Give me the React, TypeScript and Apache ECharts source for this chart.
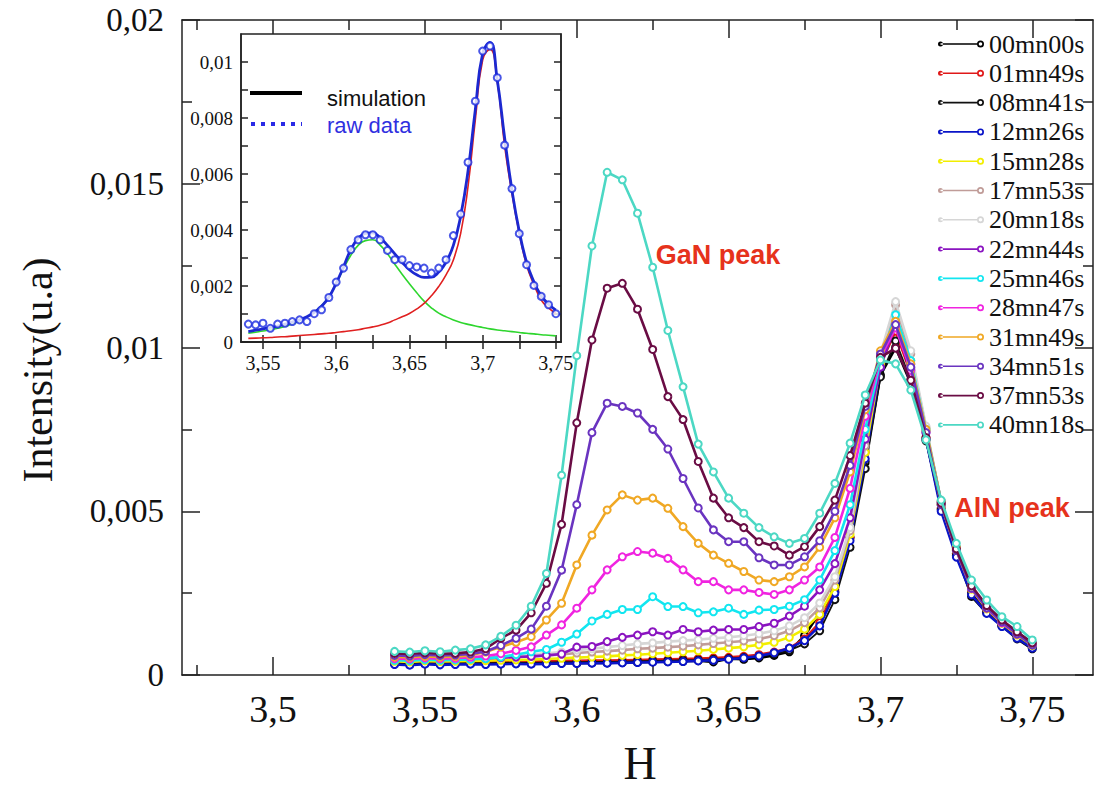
import React, { useEffect, useRef } from "react";
import * as echarts from "echarts";

// H positions (r.l.u.)
const H = [3.54, 3.545, 3.55, 3.555, 3.56, 3.565, 3.57, 3.575, 3.58, 3.585, 3.59, 3.595, 3.6, 3.605, 3.61, 3.615, 3.62, 3.625, 3.63, 3.635, 3.64, 3.645, 3.65, 3.655, 3.66, 3.665, 3.67, 3.675, 3.68, 3.685, 3.69, 3.695, 3.7, 3.705, 3.71, 3.715, 3.72, 3.725, 3.73, 3.735, 3.74, 3.745, 3.75];

const SERIES_NAMES = ["00mn00s", "01mn49s", "08mn41s", "12mn26s", "15mn28s", "17mn53s", "20mn18s", "22mn44s", "25mn46s", "28mn47s", "31mn49s", "34mn51s", "37mn53s", "40mn18s"];
const SERIES_COLORS = ["#000000", "#e01818", "#111111", "#0a14c8", "#f2ee00", "#c09c98", "#d6d6d6", "#8a14c0", "#12e6f0", "#f024e0", "#f0a824", "#6a34c0", "#6a0c44", "#4cd8c4"];

const S00 = [0.00035, 0.00033, 0.00036, 0.00034, 0.00035, 0.00036, 0.00035, 0.00036, 0.00035, 0.00036, 0.00036, 0.00037, 0.00036, 0.00037, 0.00037, 0.00038, 0.00039, 0.0004, 0.00041, 0.00042, 0.00044, 0.0004, 0.0005, 0.00048, 0.00052, 0.0006, 0.00071, 0.0012, 0.0019, 0.00254, 0.0042, 0.0065, 0.00916, 0.01, 0.0089, 0.0072, 0.0052, 0.0037, 0.0024, 0.0019, 0.0015, 0.0011, 0.0008];
const S01 = [0.0004, 0.00039, 0.00041, 0.00039, 0.0004, 0.00041, 0.0004, 0.00041, 0.00042, 0.00041, 0.00042, 0.00043, 0.00043, 0.00044, 0.00044, 0.00045, 0.00046, 0.00047, 0.00048, 0.00049, 0.0005, 0.00052, 0.00054, 0.00057, 0.00062, 0.0007, 0.00082, 0.0011, 0.0016, 0.0026, 0.0042, 0.0068, 0.0095, 0.0105, 0.0092, 0.00725, 0.0051, 0.0037, 0.00255, 0.00195, 0.00153, 0.00118, 0.00088];
const S08 = [0.00036, 0.00035, 0.00037, 0.00035, 0.00036, 0.00037, 0.00036, 0.00037, 0.00038, 0.00037, 0.00038, 0.00039, 0.00039, 0.0004, 0.0004, 0.00041, 0.00042, 0.00043, 0.00044, 0.00045, 0.00046, 0.00048, 0.0005, 0.00053, 0.00057, 0.00064, 0.00075, 0.00095, 0.00135, 0.0023, 0.0039, 0.0063, 0.0091, 0.0102, 0.009, 0.00715, 0.00505, 0.00365, 0.0025, 0.00192, 0.0015, 0.00115, 0.00085];
const S12 = [0.00032, 0.0003, 0.00033, 0.00031, 0.00032, 0.00033, 0.00032, 0.00033, 0.00034, 0.00033, 0.00034, 0.00035, 0.00035, 0.00036, 0.00036, 0.00037, 0.00038, 0.00039, 0.0004, 0.00041, 0.00043, 0.00045, 0.00048, 0.00052, 0.00058, 0.00068, 0.00082, 0.00105, 0.0015, 0.0025, 0.0041, 0.0066, 0.0094, 0.0108, 0.0092, 0.0072, 0.005, 0.0036, 0.00245, 0.00188, 0.00148, 0.00112, 0.00082];
const S15 = [0.00042, 0.0004, 0.00043, 0.00041, 0.00042, 0.00043, 0.00044, 0.00045, 0.00046, 0.00047, 0.00049, 0.00051, 0.00053, 0.00055, 0.00057, 0.0006, 0.00062, 0.00065, 0.00068, 0.00071, 0.00074, 0.00078, 0.00082, 0.00086, 0.00092, 0.001, 0.00115, 0.0014, 0.00185, 0.0027, 0.0043, 0.0068, 0.0095, 0.011, 0.0096, 0.00745, 0.0052, 0.0038, 0.00262, 0.00202, 0.00158, 0.00122, 0.0009];
const S17 = [0.00049, 0.00047, 0.0005, 0.00048, 0.00049, 0.0005, 0.00051, 0.00053, 0.00055, 0.00057, 0.0006, 0.00063, 0.00067, 0.0007, 0.00073, 0.00076, 0.0008, 0.00082, 0.00085, 0.00088, 0.00092, 0.00096, 0.001, 0.00104, 0.0011, 0.0012, 0.00135, 0.0016, 0.00205, 0.0029, 0.0044, 0.007, 0.0097, 0.0113, 0.0098, 0.00755, 0.00528, 0.00388, 0.00268, 0.00208, 0.00163, 0.00127, 0.00094];
const S20 = [0.00052, 0.0005, 0.00053, 0.00051, 0.00052, 0.00053, 0.00055, 0.00057, 0.0006, 0.00063, 0.00066, 0.0007, 0.00076, 0.0008, 0.00085, 0.0009, 0.00095, 0.00098, 0.00102, 0.00105, 0.00108, 0.00112, 0.00115, 0.0012, 0.00126, 0.00135, 0.0015, 0.00175, 0.0022, 0.003, 0.0045, 0.0072, 0.0098, 0.0114, 0.0099, 0.0076, 0.0053, 0.0039, 0.0027, 0.0021, 0.00165, 0.00128, 0.00095];
const S22 = [0.00048, 0.00046, 0.00049, 0.00047, 0.00048, 0.0005, 0.00051, 0.00053, 0.00055, 0.00057, 0.0006, 0.00064, 0.00085, 0.00087, 0.00102, 0.00115, 0.00122, 0.00132, 0.00122, 0.00139, 0.00132, 0.00137, 0.00139, 0.00139, 0.00148, 0.00158, 0.0018, 0.0021, 0.0026, 0.0034, 0.0048, 0.0072, 0.0094, 0.0107, 0.0095, 0.00745, 0.00525, 0.00385, 0.00265, 0.00205, 0.0016, 0.00125, 0.00092];
const S25 = [0.00045, 0.00044, 0.00047, 0.00045, 0.00046, 0.00048, 0.0005, 0.00055, 0.00062, 0.00071, 0.00078, 0.001, 0.00125, 0.00165, 0.00185, 0.002, 0.002, 0.00239, 0.00209, 0.00209, 0.0019, 0.00193, 0.00204, 0.00185, 0.00198, 0.002, 0.0021, 0.0023, 0.0029, 0.0038, 0.0052, 0.0075, 0.0096, 0.011, 0.0096, 0.0075, 0.0053, 0.0039, 0.0027, 0.0021, 0.00165, 0.0013, 0.00098];
const S28 = [0.0005, 0.00049, 0.00052, 0.0005, 0.00051, 0.00054, 0.00058, 0.00065, 0.00075, 0.00086, 0.00122, 0.00153, 0.00204, 0.0026, 0.00321, 0.00361, 0.00377, 0.00372, 0.00356, 0.00321, 0.00285, 0.00285, 0.0026, 0.0026, 0.00252, 0.00246, 0.0026, 0.0029, 0.0033, 0.0042, 0.0057, 0.0079, 0.0097, 0.0106, 0.0093, 0.0074, 0.0053, 0.00385, 0.00265, 0.00205, 0.0016, 0.00126, 0.00094];
const S31 = [0.00055, 0.00054, 0.00057, 0.00055, 0.00056, 0.0006, 0.0007, 0.00086, 0.001, 0.00117, 0.00168, 0.00219, 0.00336, 0.00427, 0.00504, 0.0055, 0.00534, 0.0054, 0.00509, 0.00453, 0.00402, 0.00366, 0.00341, 0.00316, 0.0029, 0.00285, 0.003, 0.0033, 0.0039, 0.0048, 0.0062, 0.0081, 0.0099, 0.0108, 0.0095, 0.0075, 0.0053, 0.0039, 0.0027, 0.00208, 0.00165, 0.0013, 0.00096];
const S34 = [0.0006, 0.00058, 0.00062, 0.0006, 0.00061, 0.00064, 0.00072, 0.0009, 0.00112, 0.0014, 0.0021, 0.0032, 0.0052, 0.0074, 0.0083, 0.0082, 0.008, 0.0075, 0.0069, 0.006, 0.0051, 0.00443, 0.00407, 0.00407, 0.00358, 0.00336, 0.00336, 0.00361, 0.0041, 0.005, 0.0064, 0.0082, 0.0098, 0.0107, 0.0094, 0.0074, 0.0052, 0.0038, 0.00265, 0.00205, 0.00162, 0.00126, 0.00092];
const S37 = [0.00066, 0.00064, 0.00068, 0.00065, 0.00066, 0.0007, 0.0008, 0.00112, 0.00137, 0.0019, 0.0028, 0.0046, 0.0077, 0.01023, 0.01181, 0.01196, 0.01117, 0.00994, 0.0085, 0.0078, 0.00652, 0.0054, 0.0048, 0.0045, 0.00407, 0.00394, 0.00366, 0.00392, 0.00453, 0.00534, 0.0067, 0.0083, 0.0097, 0.00998, 0.009, 0.00725, 0.00525, 0.00385, 0.00272, 0.00212, 0.00168, 0.00132, 0.00098];
const S40 = [0.00072, 0.0007, 0.00074, 0.00071, 0.00076, 0.0008, 0.00092, 0.00118, 0.00152, 0.0021, 0.0031, 0.0061, 0.00975, 0.0131, 0.01535, 0.01512, 0.0141, 0.01245, 0.01052, 0.0088, 0.00705, 0.0062, 0.0054, 0.00494, 0.0045, 0.00422, 0.00402, 0.00417, 0.00494, 0.00585, 0.00708, 0.00855, 0.00962, 0.0095, 0.0087, 0.00718, 0.00534, 0.00402, 0.0029, 0.00229, 0.00178, 0.00148, 0.00107];

const MAIN_SERIES = [S00, S01, S08, S12, S15, S17, S20, S22, S25, S28, S31, S34, S37, S40];

// Inset: fit of one scan (simulation = GaN + AlN contributions)
const INSET_RAW = [0.00064, 0.00061, 0.00067, 0.00049, 0.00064, 0.00067, 0.00073, 0.00079, 0.00073, 0.00101, 0.00115, 0.00159, 0.00214, 0.00264, 0.0033, 0.00365, 0.00383, 0.00383, 0.00365, 0.00327, 0.00294, 0.00294, 0.00273, 0.00268, 0.00264, 0.00246, 0.00264, 0.00294, 0.0038, 0.00457, 0.00642, 0.0086, 0.01039, 0.01057, 0.00944, 0.00703, 0.00548, 0.00387, 0.00276, 0.00202, 0.00163, 0.00133, 0.00101];
const INSET_SIM = [0.00037, 0.00042, 0.00047, 0.00052, 0.00057, 0.00064, 0.00071, 0.00079, 0.0009, 0.00106, 0.00128, 0.0016, 0.0021, 0.00268, 0.0033, 0.0037, 0.00388, 0.0039, 0.00372, 0.00345, 0.00315, 0.00285, 0.00258, 0.0024, 0.00231, 0.00232, 0.0025, 0.00285, 0.00345, 0.0045, 0.0061, 0.0083, 0.0103, 0.0107, 0.00935, 0.0073, 0.00543, 0.00395, 0.00285, 0.00215, 0.00165, 0.00135, 0.00114];
const INSET_GAN = [0.00031, 0.00035, 0.00039, 0.00044, 0.00049, 0.00056, 0.00064, 0.00076, 0.0009, 0.00107, 0.0013, 0.00162, 0.00208, 0.00262, 0.0031, 0.00345, 0.00362, 0.00365, 0.00346, 0.00315, 0.00278, 0.00242, 0.00208, 0.00176, 0.00146, 0.00122, 0.00103, 0.0009, 0.00079, 0.0007, 0.00063, 0.00057, 0.00052, 0.00047, 0.00043, 0.0004, 0.00037, 0.00034, 0.00031, 0.00029, 0.00026, 0.00024, 0.00022];
const INSET_ALN = [0.00013, 0.00014, 0.00015, 0.00016, 0.00018, 0.00019, 0.00021, 0.00023, 0.00025, 0.00027, 0.00029, 0.00031, 0.00034, 0.00037, 0.0004, 0.00044, 0.00049, 0.00054, 0.0006, 0.00068, 0.00079, 0.0009, 0.00102, 0.00118, 0.00138, 0.00165, 0.00198, 0.0024, 0.00293, 0.00388, 0.00555, 0.00793, 0.01007, 0.01045, 0.0093, 0.007, 0.00531, 0.00388, 0.00275, 0.00205, 0.0015, 0.00122, 0.00102];

const MAIN_X_LABELS = [3.5, 3.55, 3.6, 3.65, 3.7, 3.75];
const MAIN_X_MINOR = [3.475, 3.525, 3.575, 3.625, 3.675, 3.725];
const INSET_X_LABELS = [3.55, 3.6, 3.65, 3.7, 3.75];
const INSET_X_TICKS = [3.55, 3.575, 3.6, 3.625, 3.65, 3.675, 3.7, 3.725, 3.75];
const INSET_Y_LABELS = [0, 0.002, 0.004, 0.006, 0.008, 0.01];
const INSET_Y_TICKS = [0, 0.001, 0.002, 0.003, 0.004, 0.005, 0.006, 0.007, 0.008, 0.009, 0.01];

const SERIF = "Liberation Serif";
const SANS = "Liberation Sans";
const comma = (v: number) => String(+v.toFixed(4)).replace(".", ",");

const LEGEND_ICON =
  "path://M4 4.2H41V5.8H4Z M1.5 5A2.5 2.5 0 1 0 6.5 5A2.5 2.5 0 1 0 1.5 5Z M40.5 5A3.5 3.5 0 1 1 47.5 5A3.5 3.5 0 1 1 40.5 5Z M42.2 5A1.8 1.8 0 1 0 45.8 5A1.8 1.8 0 1 0 42.2 5Z";

const LEGEND_TEXT = { fontFamily: SERIF, fontSize: 26, lineHeight: 24, color: "#111", fontWeight: "normal" };

export default function App() {
  const ref = useRef<HTMLDivElement>(null);
  useEffect(() => {
    document.body.style.margin = "0";
    const chart = echarts.init(ref.current!, null, { renderer: "svg" });
    const axisLine = { show: true, lineStyle: { color: "#222", width: 1.5 } };
    const mainSeries = MAIN_SERIES.map((arr, k) => ({
      name: SERIES_NAMES[k],
      type: "line",
      xAxisIndex: 0,
      yAxisIndex: 0,
      data: H.map((h, i) => [h, arr[i]]),
      symbol: "emptyCircle",
      symbolSize: 7,
      showSymbol: true,
      lineStyle: { color: SERIES_COLORS[k], width: k === 2 ? 1.8 : 2.6 },
      itemStyle: { color: SERIES_COLORS[k], borderWidth: 1.6 },
      z: 2 + k * 0.01,
    }));
    const insetAxisX = (pos: string, labels: boolean) => ({
      gridIndex: 1,
      type: "value",
      min: 3.535,
      max: 3.7535,
      position: pos,
      axisLine,
      axisTick: { show: true, inside: true, length: 7, customValues: INSET_X_TICKS, lineStyle: { color: "#222", width: 1.5 } },
      axisLabel: labels
        ? { show: true, customValues: INSET_X_LABELS, formatter: comma, fontFamily: SERIF, fontSize: 20, color: "#111", margin: 11 }
        : { show: false },
      splitLine: { show: false },
      z: 6,
    });
    const insetAxisY = (pos: string, labels: boolean) => ({
      gridIndex: 1,
      type: "value",
      min: 0,
      max: 0.011,
      position: pos,
      axisLine,
      axisTick: { show: true, inside: true, length: 7, customValues: INSET_Y_TICKS, lineStyle: { color: "#222", width: 1.5 } },
      axisLabel: labels
        ? { show: true, customValues: INSET_Y_LABELS, formatter: comma, fontFamily: SERIF, fontSize: 19, color: "#111", margin: 8 }
        : { show: false },
      splitLine: { show: false },
      z: 6,
    });
    const mainX = (pos: string, ticks: number[], len: number, labels: boolean, line: boolean) => ({
      gridIndex: 0,
      type: "value",
      min: 3.47,
      max: 3.77,
      position: pos,
      axisLine: line ? axisLine : { show: false },
      axisTick: { show: true, inside: true, length: len, customValues: ticks, lineStyle: { color: "#222", width: 1.5 } },
      axisLabel: labels
        ? { show: true, customValues: MAIN_X_LABELS, formatter: comma, fontFamily: SERIF, fontSize: 38, color: "#111", margin: 15 }
        : { show: false },
      splitLine: { show: false },
    });
    const mainY = (pos: string, labels: boolean) => ({
      gridIndex: 0,
      type: "value",
      min: 0,
      max: 0.02,
      interval: 0.005,
      position: pos,
      axisLine,
      axisTick: { show: true, inside: true, length: 18, lineStyle: { color: "#222", width: 1.5 } },
      minorTick: { show: true, splitNumber: 2, length: 10, lineStyle: { color: "#222", width: 1.5 } },
      axisLabel: labels
        ? { show: true, formatter: comma, fontFamily: SERIF, fontSize: 33, color: "#111", margin: 18 }
        : { show: false },
      splitLine: { show: false },
      minorSplitLine: { show: false },
    });

    chart.setOption({
      animation: false,
      backgroundColor: "#ffffff",
      textStyle: { fontFamily: SERIF },
      grid: [
        { left: 182, top: 20, width: 911, height: 655, show: false },
        { left: 241, top: 34, width: 320, height: 308, show: true, backgroundColor: "#ffffff", borderColor: "#222", borderWidth: 1.5, z: 5 },
      ],
      xAxis: [
        mainX("bottom", MAIN_X_LABELS, 18, true, true),
        mainX("bottom", MAIN_X_MINOR, 10, false, false),
        mainX("top", MAIN_X_LABELS, 18, false, true),
        mainX("top", MAIN_X_MINOR, 10, false, false),
        insetAxisX("bottom", true),
        insetAxisX("top", false),
      ],
      yAxis: [mainY("left", true), mainY("right", false), insetAxisY("left", true), insetAxisY("right", false)],
      legend: {
        orient: "vertical",
        left: 938,
        top: 31,
        padding: 0,
        itemWidth: 46,
        itemHeight: 7,
        itemGap: 3.3,
        icon: LEGEND_ICON,
        data: SERIES_NAMES.map((name) => ({ name, textStyle: LEGEND_TEXT })),
        textStyle: LEGEND_TEXT,
      },
      series: [
        ...mainSeries,
        {
          name: "GaN fit",
          type: "line",
          xAxisIndex: 4,
          yAxisIndex: 2,
          data: H.map((h, i) => [h, INSET_GAN[i]]),
          smooth: true,
          showSymbol: false,
          lineStyle: { color: "#2ed62e", width: 1.6 },
          z: 7,
        },
        {
          name: "AlN fit",
          type: "line",
          xAxisIndex: 4,
          yAxisIndex: 2,
          data: H.map((h, i) => [h, INSET_ALN[i]]),
          smooth: true,
          showSymbol: false,
          lineStyle: { color: "#e02020", width: 1.6 },
          z: 7,
        },
        {
          name: "simulation",
          type: "line",
          xAxisIndex: 4,
          yAxisIndex: 2,
          data: H.map((h, i) => [h, INSET_SIM[i]]),
          smooth: true,
          showSymbol: false,
          lineStyle: { color: "#1c28d0", width: 2.8 },
          z: 8,
        },
        {
          name: "raw data",
          type: "scatter",
          xAxisIndex: 4,
          yAxisIndex: 2,
          data: H.map((h, i) => [h, INSET_RAW[i]]),
          symbol: "emptyCircle",
          symbolSize: 7,
          itemStyle: { color: "#1a2ae0", borderColor: "#1a2ae0", borderWidth: 2.2 },
          z: 9,
        },
      ],
      graphic: [
        {
          type: "text",
          x: 38,
          y: 370,
          rotation: Math.PI / 2,
          z: 100,
          style: { text: "Intensity(u.a)", fontFamily: SERIF, fontSize: 42, fill: "#111", align: "center", verticalAlign: "middle", textAlign: "center", textVerticalAlign: "middle" },
        },
        {
          type: "text",
          x: 640,
          y: 763,
          z: 100,
          style: { text: "H", fontFamily: SERIF, fontSize: 46, fill: "#111", align: "center", verticalAlign: "middle", textAlign: "center", textVerticalAlign: "middle" },
        },
        {
          type: "text",
          x: 718,
          y: 255,
          z: 100,
          style: { text: "GaN peak", fontFamily: SANS, fontWeight: "bold", fontSize: 27, fill: "#e6321c", align: "center", verticalAlign: "middle", textAlign: "center", textVerticalAlign: "middle" },
        },
        {
          type: "text",
          x: 1012,
          y: 508,
          z: 100,
          style: { text: "AlN peak", fontFamily: SANS, fontWeight: "bold", fontSize: 27, fill: "#e6321c", align: "center", verticalAlign: "middle", textAlign: "center", textVerticalAlign: "middle" },
        },
        {
          type: "line",
          z: 100,
          shape: { x1: 250, y1: 93, x2: 302, y2: 93 },
          style: { stroke: "#000", lineWidth: 4 },
        },
        {
          type: "line",
          z: 100,
          shape: { x1: 251, y1: 124, x2: 302, y2: 124 },
          style: { stroke: "#2a2ae6", lineWidth: 4, lineDash: [4, 6] },
        },
        {
          type: "text",
          x: 327,
          y: 98,
          z: 100,
          style: { text: "simulation", fontFamily: SANS, fontSize: 22, fill: "#111", align: "left", verticalAlign: "middle", textAlign: "left", textVerticalAlign: "middle" },
        },
        {
          type: "text",
          x: 327,
          y: 125,
          z: 100,
          style: { text: "raw data", fontFamily: SANS, fontSize: 22, fill: "#3030e0", align: "left", verticalAlign: "middle", textAlign: "left", textVerticalAlign: "middle" },
        },
      ],
    });
    return () => chart.dispose();
  }, []);
  return <div ref={ref} style={{ width: 1095, height: 789 }} />;
}
